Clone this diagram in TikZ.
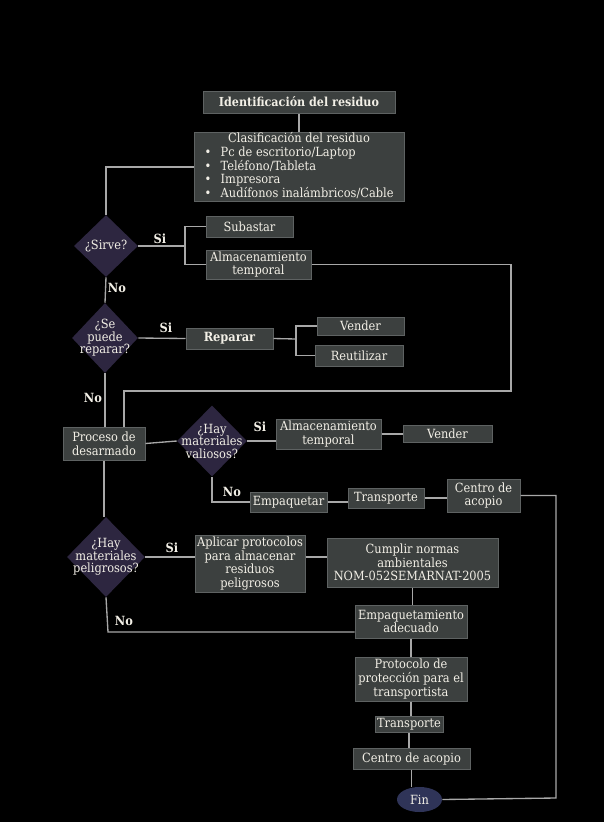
\documentclass[tikz,border=0pt]{standalone}
\usepackage{fontspec}
\setmainfont{DejaVu Serif Condensed}
\usetikzlibrary{shapes.geometric}

\definecolor{boxfill}{HTML}{3C403F}
\definecolor{boxline}{HTML}{5E6262}
\definecolor{decfill}{HTML}{2D2640}
\definecolor{endfill}{HTML}{2F3458}
\definecolor{wire}{HTML}{A8A8A8}
\definecolor{ink}{HTML}{F2EFE6}

\tikzset{
  box/.style={draw=boxline, fill=boxfill, text=ink, line width=0.75pt,
    inner sep=0pt, align=center, font=\fontsize{9.5}{10.2}\selectfont},
  decision/.style={diamond, draw=none, fill=decfill, inner sep=0pt, aspect=1},
  dtext/.style={text=ink, align=center, inner sep=0pt,
    font=\fontsize{9.5}{9.4}\selectfont},
  endnode/.style={ellipse, fill=endfill, draw=none, text=ink, inner sep=0pt,
    font=\fontsize{9.5}{10.2}\selectfont},
  wire/.style={draw=wire, line width=1pt},
  answer/.style={text=ink, inner sep=0pt, font=\bfseries\fontsize{9.5}{10.2}\selectfont}
}

% box from its corners (pixel grid): [opts]{name}{x1}{y1}{x2}{y2}{text}
\newcommand\mkbox[7][]{%
  \node[box,#1, minimum width={(#5-#3)*0.75pt}, minimum height={(#6-#4)*0.75pt}]
    (#2) at ({(#3+#5)/2},{(#4+#6)/2}) {#7};}

% decision diamond with its text: {name}{cx}{cy}{w}{h}{text}
\newcommand\mkdecision[6]{%
  \node[decision, minimum width={#4*0.75pt}, minimum height={#5*0.75pt}] (#1) at (#2,#3) {};
  \node[dtext] (#1-t) at (#1) {#6};}

\begin{document}
\begin{tikzpicture}[x=0.75pt, y=-0.75pt]
\fill[black] (0,0) rectangle (604,822);
\useasboundingbox (0,0) rectangle (604,822);

% ---- boxes ----
\mkbox[font=\bfseries\fontsize{9.3}{10.2}\selectfont]{ident}{203}{91}{395}{113}{Identificación del residuo}
\mkbox{clas}{194}{133}{404}{201}{%
  \renewcommand\arraystretch{0.955}%
  \begin{tabular}{@{}l@{}}
  \multicolumn{1}{@{}c@{}}{Clasificación del residuo}\\
  •\hspace{0.75em}Pc de escritorio/Laptop\\
  •\hspace{0.75em}Teléfono/Tableta\\
  •\hspace{0.75em}Impresora\\
  •\hspace{0.75em}Audífonos inalámbricos/Cable
  \end{tabular}}

\mkbox{sub}{206}{216}{293}{237}{Subastar}
\mkbox{almA}{206}{250}{311}{279}{Almacenamiento\\temporal}

\mkbox[font=\bfseries\fontsize{9.5}{10.2}\selectfont]{repbox}{186}{328}{273}{349}{Reparar}
\mkbox{venA}{317}{317}{404}{335}{Vender}
\mkbox{reut}{315}{345}{403}{366}{Reutilizar}

\mkbox{proc}{63}{427}{145}{460}{Proceso de\\desarmado}
\mkbox{almB}{276}{419}{381}{449}{Almacenamiento\\temporal}
\mkbox{venB}{403}{425}{492}{442}{Vender}
\mkbox{empq}{250}{492}{327}{512}{Empaquetar}
\mkbox{traA}{348}{488}{424}{508}{Transporte}
\mkbox{cenA}{447}{479}{520}{512}{Centro de\\acopio}

\mkbox{apl}{195}{535}{305}{592}{Aplicar protocolos\\para almacenar\\residuos\\peligrosos}
\mkbox{cum}{327}{538}{498}{587}{Cumplir normas\\ambientales\\NOM-052SEMARNAT-2005}
\mkbox{empt}{355}{605}{467}{638}{Empaquetamiento\\adecuado}
\mkbox{prot}{355}{657}{467}{701}{Protocolo de\\protección para el\\transportista}
\mkbox{traB}{375}{716}{443}{732}{Transporte}
\mkbox{cenB}{353}{748}{470}{769}{Centro de acopio}

\node[endnode, minimum width={45*0.75pt}, minimum height={25*0.75pt}] (fin) at (419.5,799.5) {Fin};

% ---- decisions ----
\mkdecision{sirve}{106}{246}{64}{62}{¿Sirve?}
\mkdecision{rep}{105}{338}{66}{70}{¿Se\\puede\\reparar?}
\mkdecision{val}{212}{441}{70}{71}{¿Hay\\materiales\\valiosos?}
\mkdecision{pel}{106}{557}{78}{80}{¿Hay\\materiales\\peligrosos?}

% ---- connectors ----
\coordinate (jA) at (185,246);
\coordinate (jB) at (296,339);
\coordinate (rA) at (511,391);
\coordinate (rB) at (124,391);
\coordinate (rC) at (556,798);
\coordinate (cN) at (108,632);

\draw[wire] (ident.south) -- (clas.north);
\draw[wire] (clas.west) -| (sirve.north);
\draw[wire] (sirve.east) -- (jA);
\draw[wire] (jA) |- (sub.west);
\draw[wire] (jA) |- (almA.west);
\draw[wire] (almA.east) -| (rA) -- (rB) -- (rB |- proc.north);
\draw[wire] (sirve.south) -- (rep.north);
\draw[wire] (rep.east) -- (repbox.west);
\draw[wire] (repbox.east) -- (jB);
\draw[wire] (jB) |- (venA.west);
\draw[wire] (jB) |- (reut.west);
\draw[wire] (rep.south) -- (rep.south |- proc.north);
\draw[wire] (proc.east) -- (val.west);
\draw[wire] (val.east) -- (val.east -| almB.west);
\draw[wire] (almB.east) -- (almB.east -| venB.west);
\draw[wire] (val.south) |- (empq.west);
\draw[wire] (empq.east) -- (empq.east -| traA.west);
\draw[wire] (traA.east) -- (traA.east -| cenA.west);
\draw[wire] (cenA.east) -| (rC) -- (fin.east);
\draw[wire] (proc.south) -- (proc.south |- pel.north);
\draw[wire] (pel.east) -- (pel.east -| apl.west);
\draw[wire] (pel.east -| apl.east) -- (pel.east -| cum.west);
\draw[wire] (cum.south) -- (cum.south |- empt.north);
\draw[wire] (pel.south) -- (cN) -- (cN -| empt.west);
\draw[wire] (empt.south) -- (empt.south |- prot.north);
\draw[wire] (prot.south) -- (prot.south |- traB.north);
\draw[wire] (traB.south) -- (traB.south |- cenB.north);
\draw[wire] (cenB.south) -- (cenB.south |- fin.north);

% ---- answers ----
\node[answer] (a1) at (160,239) {Si};
\node[answer] (a2) at (117,288) {No};
\node[answer] (a3) at (166,328) {Si};
\node[answer] (a4) at (93,398) {No};
\node[answer] (a5) at (260,427) {Si};
\node[answer] (a6) at (232,492) {No};
\node[answer] (a7) at (172,548) {Si};
\node[answer] (a8) at (124,621) {No};
\end{tikzpicture}
\end{document}
